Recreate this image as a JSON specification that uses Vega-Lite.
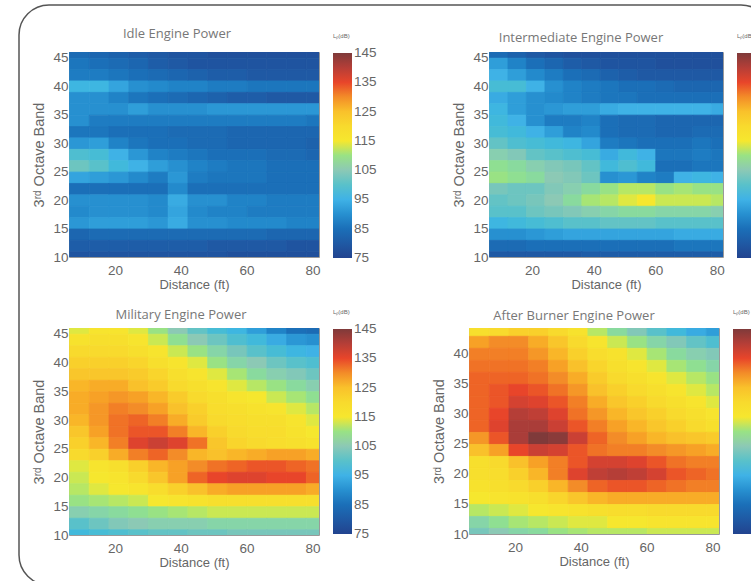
{"$schema":"https://vega.github.io/schema/vega-lite/v6.json","padding":{"left":18,"top":4,"right":0,"bottom":0},"background":"#ffffff","config":{"view":{"stroke":"#999","strokeWidth":1},"title":{"font":"Open Sans","fontSize":13,"fontWeight":"normal","color":"#777"},"rect":{"strokeWidth":0.8},"axis":{"domain":false,"ticks":false,"grid":false,"labelFont":"Liberation Sans","labelFontSize":13.5,"labelColor":"#666","titleFont":"Liberation Sans","titleFontSize":13,"titleFontWeight":"normal","titleColor":"#666"},"axisX":{"labelPadding":6,"titlePadding":2},"axisY":{"labelPadding":1,"titlePadding":6,"titleFontSize":14.5},"legend":{"gradientLength":205,"gradientThickness":19,"labelFont":"Liberation Sans","labelFontSize":13.5,"labelColor":"#666","titleFont":"Liberation Sans","titleFontSize":6,"titleFontWeight":"normal","titleColor":"#666","gradientStrokeColor":"#999","titlePadding":14}},"datasets":{"p1":[
{"d":9,"b":46,"v":84},{"d":15,"b":46,"v":83},{"d":21,"b":46,"v":82},{"d":27,"b":46,"v":81},{"d":33,"b":46,"v":80},{"d":39,"b":46,"v":79},{"d":45,"b":46,"v":79},{"d":51,"b":46,"v":78},{"d":57,"b":46,"v":78},{"d":63,"b":46,"v":78},{"d":69,"b":46,"v":78},{"d":75,"b":46,"v":78},{"d":81,"b":46,"v":78},
{"d":9,"b":44,"v":86},{"d":15,"b":44,"v":85},{"d":21,"b":44,"v":84},{"d":27,"b":44,"v":83},{"d":33,"b":44,"v":81},{"d":39,"b":44,"v":80},{"d":45,"b":44,"v":79},{"d":51,"b":44,"v":79},{"d":57,"b":44,"v":79},{"d":63,"b":44,"v":79},{"d":69,"b":44,"v":79},{"d":75,"b":44,"v":79},{"d":81,"b":44,"v":79},
{"d":9,"b":42,"v":87},{"d":15,"b":42,"v":87},{"d":21,"b":42,"v":86},{"d":27,"b":42,"v":85},{"d":33,"b":42,"v":84},{"d":39,"b":42,"v":83},{"d":45,"b":42,"v":82},{"d":51,"b":42,"v":81},{"d":57,"b":42,"v":81},{"d":63,"b":42,"v":80},{"d":69,"b":42,"v":80},{"d":75,"b":42,"v":80},{"d":81,"b":42,"v":80},
{"d":9,"b":40,"v":96},{"d":15,"b":40,"v":96},{"d":21,"b":40,"v":93},{"d":27,"b":40,"v":90},{"d":33,"b":40,"v":89},{"d":39,"b":40,"v":88},{"d":45,"b":40,"v":88},{"d":51,"b":40,"v":87},{"d":57,"b":40,"v":87},{"d":63,"b":40,"v":86},{"d":69,"b":40,"v":86},{"d":75,"b":40,"v":86},{"d":81,"b":40,"v":86},
{"d":9,"b":38,"v":90},{"d":15,"b":38,"v":90},{"d":21,"b":38,"v":88},{"d":27,"b":38,"v":86},{"d":33,"b":38,"v":85},{"d":39,"b":38,"v":84},{"d":45,"b":38,"v":83},{"d":51,"b":38,"v":82},{"d":57,"b":38,"v":81},{"d":63,"b":38,"v":81},{"d":69,"b":38,"v":80},{"d":75,"b":38,"v":80},{"d":81,"b":38,"v":80},
{"d":9,"b":36,"v":90},{"d":15,"b":36,"v":90},{"d":21,"b":36,"v":90},{"d":27,"b":36,"v":92},{"d":33,"b":36,"v":90},{"d":39,"b":36,"v":90},{"d":45,"b":36,"v":90},{"d":51,"b":36,"v":91},{"d":57,"b":36,"v":91},{"d":63,"b":36,"v":91},{"d":69,"b":36,"v":91},{"d":75,"b":36,"v":91},{"d":81,"b":36,"v":91},
{"d":9,"b":34,"v":90},{"d":15,"b":34,"v":87},{"d":21,"b":34,"v":87},{"d":27,"b":34,"v":87},{"d":33,"b":34,"v":87},{"d":39,"b":34,"v":87},{"d":45,"b":34,"v":87},{"d":51,"b":34,"v":87},{"d":57,"b":34,"v":87},{"d":63,"b":34,"v":87},{"d":69,"b":34,"v":87},{"d":75,"b":34,"v":87},{"d":81,"b":34,"v":86},
{"d":9,"b":32,"v":86},{"d":15,"b":32,"v":86},{"d":21,"b":32,"v":85},{"d":27,"b":32,"v":85},{"d":33,"b":32,"v":85},{"d":39,"b":32,"v":84},{"d":45,"b":32,"v":84},{"d":51,"b":32,"v":84},{"d":57,"b":32,"v":83},{"d":63,"b":32,"v":83},{"d":69,"b":32,"v":83},{"d":75,"b":32,"v":83},{"d":81,"b":32,"v":83},
{"d":9,"b":30,"v":91},{"d":15,"b":30,"v":92},{"d":21,"b":30,"v":88},{"d":27,"b":30,"v":86},{"d":33,"b":30,"v":85},{"d":39,"b":30,"v":85},{"d":45,"b":30,"v":84},{"d":51,"b":30,"v":84},{"d":57,"b":30,"v":83},{"d":63,"b":30,"v":83},{"d":69,"b":30,"v":83},{"d":75,"b":30,"v":83},{"d":81,"b":30,"v":82},
{"d":9,"b":28,"v":99},{"d":15,"b":28,"v":98},{"d":21,"b":28,"v":95},{"d":27,"b":28,"v":91},{"d":33,"b":28,"v":88},{"d":39,"b":28,"v":87},{"d":45,"b":28,"v":86},{"d":51,"b":28,"v":85},{"d":57,"b":28,"v":85},{"d":63,"b":28,"v":85},{"d":69,"b":28,"v":84},{"d":75,"b":28,"v":84},{"d":81,"b":28,"v":83},
{"d":9,"b":26,"v":102},{"d":15,"b":26,"v":100},{"d":21,"b":26,"v":97},{"d":27,"b":26,"v":95},{"d":33,"b":26,"v":92},{"d":39,"b":26,"v":90},{"d":45,"b":26,"v":88},{"d":51,"b":26,"v":87},{"d":57,"b":26,"v":86},{"d":63,"b":26,"v":86},{"d":69,"b":26,"v":85},{"d":75,"b":26,"v":85},{"d":81,"b":26,"v":85},
{"d":9,"b":24,"v":93},{"d":15,"b":24,"v":92},{"d":21,"b":24,"v":91},{"d":27,"b":24,"v":89},{"d":33,"b":24,"v":87},{"d":39,"b":24,"v":91},{"d":45,"b":24,"v":87},{"d":51,"b":24,"v":86},{"d":57,"b":24,"v":86},{"d":63,"b":24,"v":86},{"d":69,"b":24,"v":85},{"d":75,"b":24,"v":85},{"d":81,"b":24,"v":85},
{"d":9,"b":22,"v":85},{"d":15,"b":22,"v":85},{"d":21,"b":22,"v":85},{"d":27,"b":22,"v":85},{"d":33,"b":22,"v":85},{"d":39,"b":22,"v":89},{"d":45,"b":22,"v":85},{"d":51,"b":22,"v":85},{"d":57,"b":22,"v":85},{"d":63,"b":22,"v":85},{"d":69,"b":22,"v":85},{"d":75,"b":22,"v":85},{"d":81,"b":22,"v":85},
{"d":9,"b":20,"v":90},{"d":15,"b":20,"v":90},{"d":21,"b":20,"v":90},{"d":27,"b":20,"v":90},{"d":33,"b":20,"v":89},{"d":39,"b":20,"v":94},{"d":45,"b":20,"v":90},{"d":51,"b":20,"v":90},{"d":57,"b":20,"v":88},{"d":63,"b":20,"v":88},{"d":69,"b":20,"v":87},{"d":75,"b":20,"v":87},{"d":81,"b":20,"v":87},
{"d":9,"b":18,"v":89},{"d":15,"b":18,"v":90},{"d":21,"b":18,"v":90},{"d":27,"b":18,"v":90},{"d":33,"b":18,"v":89},{"d":39,"b":18,"v":93},{"d":45,"b":18,"v":89},{"d":51,"b":18,"v":88},{"d":57,"b":18,"v":88},{"d":63,"b":18,"v":87},{"d":69,"b":18,"v":87},{"d":75,"b":18,"v":87},{"d":81,"b":18,"v":87},
{"d":9,"b":16,"v":91},{"d":15,"b":16,"v":92},{"d":21,"b":16,"v":92},{"d":27,"b":16,"v":92},{"d":33,"b":16,"v":91},{"d":39,"b":16,"v":94},{"d":45,"b":16,"v":90},{"d":51,"b":16,"v":90},{"d":57,"b":16,"v":89},{"d":63,"b":16,"v":89},{"d":69,"b":16,"v":89},{"d":75,"b":16,"v":88},{"d":81,"b":16,"v":88},
{"d":9,"b":14,"v":83},{"d":15,"b":14,"v":84},{"d":21,"b":14,"v":84},{"d":27,"b":14,"v":84},{"d":33,"b":14,"v":84},{"d":39,"b":14,"v":84},{"d":45,"b":14,"v":84},{"d":51,"b":14,"v":84},{"d":57,"b":14,"v":84},{"d":63,"b":14,"v":84},{"d":69,"b":14,"v":83},{"d":75,"b":14,"v":83},{"d":81,"b":14,"v":83},
{"d":9,"b":12,"v":81},{"d":15,"b":12,"v":81},{"d":21,"b":12,"v":81},{"d":27,"b":12,"v":81},{"d":33,"b":12,"v":81},{"d":39,"b":12,"v":81},{"d":45,"b":12,"v":81},{"d":51,"b":12,"v":80},{"d":57,"b":12,"v":80},{"d":63,"b":12,"v":80},{"d":69,"b":12,"v":80},{"d":75,"b":12,"v":79},{"d":81,"b":12,"v":79},
{"d":9,"b":10,"v":79},{"d":15,"b":10,"v":79},{"d":21,"b":10,"v":79},{"d":27,"b":10,"v":79},{"d":33,"b":10,"v":79},{"d":39,"b":10,"v":79},{"d":45,"b":10,"v":79},{"d":51,"b":10,"v":79},{"d":57,"b":10,"v":78},{"d":63,"b":10,"v":78},{"d":69,"b":10,"v":78},{"d":75,"b":10,"v":78},{"d":81,"b":10,"v":78}
],"p2":[
{"d":9,"b":46,"v":84},{"d":15,"b":46,"v":82},{"d":21,"b":46,"v":80},{"d":27,"b":46,"v":79},{"d":33,"b":46,"v":78},{"d":39,"b":46,"v":78},{"d":45,"b":46,"v":78},{"d":51,"b":46,"v":78},{"d":57,"b":46,"v":78},{"d":63,"b":46,"v":78},{"d":69,"b":46,"v":78},{"d":75,"b":46,"v":78},{"d":81,"b":46,"v":78},
{"d":9,"b":44,"v":92},{"d":15,"b":44,"v":88},{"d":21,"b":44,"v":85},{"d":27,"b":44,"v":83},{"d":33,"b":44,"v":81},{"d":39,"b":44,"v":80},{"d":45,"b":44,"v":79},{"d":51,"b":44,"v":79},{"d":57,"b":44,"v":79},{"d":63,"b":44,"v":78},{"d":69,"b":44,"v":78},{"d":75,"b":44,"v":78},{"d":81,"b":44,"v":78},
{"d":9,"b":42,"v":95},{"d":15,"b":42,"v":92},{"d":21,"b":42,"v":89},{"d":27,"b":42,"v":87},{"d":33,"b":42,"v":85},{"d":39,"b":42,"v":84},{"d":45,"b":42,"v":82},{"d":51,"b":42,"v":81},{"d":57,"b":42,"v":80},{"d":63,"b":42,"v":80},{"d":69,"b":42,"v":80},{"d":75,"b":42,"v":80},{"d":81,"b":42,"v":80},
{"d":9,"b":40,"v":98},{"d":15,"b":40,"v":98},{"d":21,"b":40,"v":95},{"d":27,"b":40,"v":90},{"d":33,"b":40,"v":88},{"d":39,"b":40,"v":87},{"d":45,"b":40,"v":86},{"d":51,"b":40,"v":85},{"d":57,"b":40,"v":85},{"d":63,"b":40,"v":84},{"d":69,"b":40,"v":83},{"d":75,"b":40,"v":83},{"d":81,"b":40,"v":83},
{"d":9,"b":38,"v":94},{"d":15,"b":38,"v":92},{"d":21,"b":38,"v":90},{"d":27,"b":38,"v":89},{"d":33,"b":38,"v":88},{"d":39,"b":38,"v":87},{"d":45,"b":38,"v":86},{"d":51,"b":38,"v":86},{"d":57,"b":38,"v":85},{"d":63,"b":38,"v":85},{"d":69,"b":38,"v":85},{"d":75,"b":38,"v":85},{"d":81,"b":38,"v":85},
{"d":9,"b":36,"v":96},{"d":15,"b":36,"v":92},{"d":21,"b":36,"v":90},{"d":27,"b":36,"v":91},{"d":33,"b":36,"v":92},{"d":39,"b":36,"v":92},{"d":45,"b":36,"v":94},{"d":51,"b":36,"v":95},{"d":57,"b":36,"v":95},{"d":63,"b":36,"v":95},{"d":69,"b":36,"v":95},{"d":75,"b":36,"v":95},{"d":81,"b":36,"v":94},
{"d":9,"b":34,"v":97},{"d":15,"b":34,"v":95},{"d":21,"b":34,"v":90},{"d":27,"b":34,"v":87},{"d":33,"b":34,"v":87},{"d":39,"b":34,"v":88},{"d":45,"b":34,"v":85},{"d":51,"b":34,"v":84},{"d":57,"b":34,"v":84},{"d":63,"b":34,"v":83},{"d":69,"b":34,"v":83},{"d":75,"b":34,"v":83},{"d":81,"b":34,"v":83},
{"d":9,"b":32,"v":98},{"d":15,"b":32,"v":97},{"d":21,"b":32,"v":95},{"d":27,"b":32,"v":92},{"d":33,"b":32,"v":88},{"d":39,"b":32,"v":89},{"d":45,"b":32,"v":85},{"d":51,"b":32,"v":84},{"d":57,"b":32,"v":84},{"d":63,"b":32,"v":83},{"d":69,"b":32,"v":83},{"d":75,"b":32,"v":84},{"d":81,"b":32,"v":84},
{"d":9,"b":30,"v":101},{"d":15,"b":30,"v":99},{"d":21,"b":30,"v":98},{"d":27,"b":30,"v":97},{"d":33,"b":30,"v":96},{"d":39,"b":30,"v":93},{"d":45,"b":30,"v":87},{"d":51,"b":30,"v":86},{"d":57,"b":30,"v":85},{"d":63,"b":30,"v":85},{"d":69,"b":30,"v":85},{"d":75,"b":30,"v":86},{"d":81,"b":30,"v":85},
{"d":9,"b":28,"v":106},{"d":15,"b":28,"v":104},{"d":21,"b":28,"v":101},{"d":27,"b":28,"v":100},{"d":33,"b":28,"v":99},{"d":39,"b":28,"v":98},{"d":45,"b":28,"v":94},{"d":51,"b":28,"v":97},{"d":57,"b":28,"v":95},{"d":63,"b":28,"v":86},{"d":69,"b":28,"v":86},{"d":75,"b":28,"v":87},{"d":81,"b":28,"v":86},
{"d":9,"b":26,"v":109},{"d":15,"b":26,"v":108},{"d":21,"b":26,"v":106},{"d":27,"b":26,"v":104},{"d":33,"b":26,"v":103},{"d":39,"b":26,"v":101},{"d":45,"b":26,"v":97},{"d":51,"b":26,"v":99},{"d":57,"b":26,"v":97},{"d":63,"b":26,"v":85},{"d":69,"b":26,"v":85},{"d":75,"b":26,"v":86},{"d":81,"b":26,"v":86},
{"d":9,"b":24,"v":110},{"d":15,"b":24,"v":109},{"d":21,"b":24,"v":108},{"d":27,"b":24,"v":105},{"d":33,"b":24,"v":104},{"d":39,"b":24,"v":102},{"d":45,"b":24,"v":90},{"d":51,"b":24,"v":91},{"d":57,"b":24,"v":88},{"d":63,"b":24,"v":87},{"d":69,"b":24,"v":95},{"d":75,"b":24,"v":96},{"d":81,"b":24,"v":95},
{"d":9,"b":22,"v":103},{"d":15,"b":22,"v":102},{"d":21,"b":22,"v":102},{"d":27,"b":22,"v":104},{"d":33,"b":22,"v":106},{"d":39,"b":22,"v":108},{"d":45,"b":22,"v":110},{"d":51,"b":22,"v":112},{"d":57,"b":22,"v":112},{"d":63,"b":22,"v":110},{"d":69,"b":22,"v":111},{"d":75,"b":22,"v":110},{"d":81,"b":22,"v":110},
{"d":9,"b":20,"v":101},{"d":15,"b":20,"v":102},{"d":21,"b":20,"v":103},{"d":27,"b":20,"v":105},{"d":33,"b":20,"v":108},{"d":39,"b":20,"v":111},{"d":45,"b":20,"v":112},{"d":51,"b":20,"v":114},{"d":57,"b":20,"v":115},{"d":63,"b":20,"v":113},{"d":69,"b":20,"v":113},{"d":75,"b":20,"v":113},{"d":81,"b":20,"v":112},
{"d":9,"b":18,"v":100},{"d":15,"b":18,"v":100},{"d":21,"b":18,"v":102},{"d":27,"b":18,"v":103},{"d":33,"b":18,"v":104},{"d":39,"b":18,"v":106},{"d":45,"b":18,"v":107},{"d":51,"b":18,"v":108},{"d":57,"b":18,"v":108},{"d":63,"b":18,"v":107},{"d":69,"b":18,"v":107},{"d":75,"b":18,"v":107},{"d":81,"b":18,"v":106},
{"d":9,"b":16,"v":96},{"d":15,"b":16,"v":97},{"d":21,"b":16,"v":98},{"d":27,"b":16,"v":99},{"d":33,"b":16,"v":100},{"d":39,"b":16,"v":100},{"d":45,"b":16,"v":101},{"d":51,"b":16,"v":101},{"d":57,"b":16,"v":101},{"d":63,"b":16,"v":100},{"d":69,"b":16,"v":100},{"d":75,"b":16,"v":100},{"d":81,"b":16,"v":100},
{"d":9,"b":14,"v":90},{"d":15,"b":14,"v":90},{"d":21,"b":14,"v":91},{"d":27,"b":14,"v":92},{"d":33,"b":14,"v":93},{"d":39,"b":14,"v":93},{"d":45,"b":14,"v":93},{"d":51,"b":14,"v":93},{"d":57,"b":14,"v":93},{"d":63,"b":14,"v":93},{"d":69,"b":14,"v":94},{"d":75,"b":14,"v":94},{"d":81,"b":14,"v":94},
{"d":9,"b":12,"v":84},{"d":15,"b":12,"v":84},{"d":21,"b":12,"v":85},{"d":27,"b":12,"v":85},{"d":33,"b":12,"v":85},{"d":39,"b":12,"v":85},{"d":45,"b":12,"v":85},{"d":51,"b":12,"v":85},{"d":57,"b":12,"v":85},{"d":63,"b":12,"v":85},{"d":69,"b":12,"v":86},{"d":75,"b":12,"v":86},{"d":81,"b":12,"v":86},
{"d":9,"b":10,"v":80},{"d":15,"b":10,"v":80},{"d":21,"b":10,"v":80},{"d":27,"b":10,"v":80},{"d":33,"b":10,"v":80},{"d":39,"b":10,"v":81},{"d":45,"b":10,"v":81},{"d":51,"b":10,"v":81},{"d":57,"b":10,"v":81},{"d":63,"b":10,"v":81},{"d":69,"b":10,"v":81},{"d":75,"b":10,"v":81},{"d":81,"b":10,"v":81}
],"p3":[
{"d":9,"b":46,"v":114},{"d":15,"b":46,"v":116},{"d":21,"b":46,"v":116},{"d":27,"b":46,"v":114},{"d":33,"b":46,"v":110},{"d":39,"b":46,"v":105},{"d":45,"b":46,"v":101},{"d":51,"b":46,"v":98},{"d":57,"b":46,"v":96},{"d":63,"b":46,"v":92},{"d":69,"b":46,"v":88},{"d":75,"b":46,"v":85},{"d":81,"b":46,"v":84},
{"d":9,"b":44,"v":117},{"d":15,"b":44,"v":118},{"d":21,"b":44,"v":118},{"d":27,"b":44,"v":116},{"d":33,"b":44,"v":113},{"d":39,"b":44,"v":109},{"d":45,"b":44,"v":105},{"d":51,"b":44,"v":102},{"d":57,"b":44,"v":99},{"d":63,"b":44,"v":97},{"d":69,"b":44,"v":94},{"d":75,"b":44,"v":91},{"d":81,"b":44,"v":90},
{"d":9,"b":42,"v":120},{"d":15,"b":42,"v":120},{"d":21,"b":42,"v":120},{"d":27,"b":42,"v":118},{"d":33,"b":42,"v":116},{"d":39,"b":42,"v":113},{"d":45,"b":42,"v":110},{"d":51,"b":42,"v":107},{"d":57,"b":42,"v":103},{"d":63,"b":42,"v":100},{"d":69,"b":42,"v":98},{"d":75,"b":42,"v":96},{"d":81,"b":42,"v":95},
{"d":9,"b":40,"v":122},{"d":15,"b":40,"v":122},{"d":21,"b":40,"v":122},{"d":27,"b":40,"v":121},{"d":33,"b":40,"v":118},{"d":39,"b":40,"v":116},{"d":45,"b":40,"v":114},{"d":51,"b":40,"v":110},{"d":57,"b":40,"v":107},{"d":63,"b":40,"v":105},{"d":69,"b":40,"v":102},{"d":75,"b":40,"v":100},{"d":81,"b":40,"v":99},
{"d":9,"b":38,"v":124},{"d":15,"b":38,"v":124},{"d":21,"b":38,"v":124},{"d":27,"b":38,"v":123},{"d":33,"b":38,"v":121},{"d":39,"b":38,"v":118},{"d":45,"b":38,"v":116},{"d":51,"b":38,"v":114},{"d":57,"b":38,"v":111},{"d":63,"b":38,"v":108},{"d":69,"b":38,"v":106},{"d":75,"b":38,"v":104},{"d":81,"b":38,"v":102},
{"d":9,"b":36,"v":126},{"d":15,"b":36,"v":127},{"d":21,"b":36,"v":127},{"d":27,"b":36,"v":125},{"d":33,"b":36,"v":123},{"d":39,"b":36,"v":120},{"d":45,"b":36,"v":118},{"d":51,"b":36,"v":116},{"d":57,"b":36,"v":114},{"d":63,"b":36,"v":112},{"d":69,"b":36,"v":110},{"d":75,"b":36,"v":108},{"d":81,"b":36,"v":106},
{"d":9,"b":34,"v":127},{"d":15,"b":34,"v":128},{"d":21,"b":34,"v":129},{"d":27,"b":34,"v":128},{"d":33,"b":34,"v":126},{"d":39,"b":34,"v":123},{"d":45,"b":34,"v":120},{"d":51,"b":34,"v":118},{"d":57,"b":34,"v":116},{"d":63,"b":34,"v":115},{"d":69,"b":34,"v":113},{"d":75,"b":34,"v":111},{"d":81,"b":34,"v":109},
{"d":9,"b":32,"v":127},{"d":15,"b":32,"v":129},{"d":21,"b":32,"v":131},{"d":27,"b":32,"v":130},{"d":33,"b":32,"v":128},{"d":39,"b":32,"v":125},{"d":45,"b":32,"v":122},{"d":51,"b":32,"v":119},{"d":57,"b":32,"v":118},{"d":63,"b":32,"v":117},{"d":69,"b":32,"v":116},{"d":75,"b":32,"v":114},{"d":81,"b":32,"v":112},
{"d":9,"b":30,"v":126},{"d":15,"b":30,"v":129},{"d":21,"b":30,"v":132},{"d":27,"b":30,"v":133},{"d":33,"b":30,"v":131},{"d":39,"b":30,"v":127},{"d":45,"b":30,"v":123},{"d":51,"b":30,"v":120},{"d":57,"b":30,"v":119},{"d":63,"b":30,"v":118},{"d":69,"b":30,"v":118},{"d":75,"b":30,"v":116},{"d":81,"b":30,"v":114},
{"d":9,"b":28,"v":124},{"d":15,"b":28,"v":128},{"d":21,"b":28,"v":132},{"d":27,"b":28,"v":134},{"d":33,"b":28,"v":134},{"d":39,"b":28,"v":131},{"d":45,"b":28,"v":126},{"d":51,"b":28,"v":122},{"d":57,"b":28,"v":120},{"d":63,"b":28,"v":119},{"d":69,"b":28,"v":119},{"d":75,"b":28,"v":117},{"d":81,"b":28,"v":115},
{"d":9,"b":26,"v":122},{"d":15,"b":26,"v":126},{"d":21,"b":26,"v":131},{"d":27,"b":26,"v":136},{"d":33,"b":26,"v":138},{"d":39,"b":26,"v":136},{"d":45,"b":26,"v":132},{"d":51,"b":26,"v":124},{"d":57,"b":26,"v":121},{"d":63,"b":26,"v":120},{"d":69,"b":26,"v":119},{"d":75,"b":26,"v":118},{"d":81,"b":26,"v":117},
{"d":9,"b":24,"v":120},{"d":15,"b":24,"v":122},{"d":21,"b":24,"v":127},{"d":27,"b":24,"v":131},{"d":33,"b":24,"v":133},{"d":39,"b":24,"v":130},{"d":45,"b":24,"v":126},{"d":51,"b":24,"v":125},{"d":57,"b":24,"v":126},{"d":63,"b":24,"v":127},{"d":69,"b":24,"v":128},{"d":75,"b":24,"v":128},{"d":81,"b":24,"v":127},
{"d":9,"b":22,"v":114},{"d":15,"b":22,"v":116},{"d":21,"b":22,"v":118},{"d":27,"b":22,"v":122},{"d":33,"b":22,"v":126},{"d":39,"b":22,"v":128},{"d":45,"b":22,"v":130},{"d":51,"b":22,"v":132},{"d":57,"b":22,"v":133},{"d":63,"b":22,"v":134},{"d":69,"b":22,"v":134},{"d":75,"b":22,"v":133},{"d":81,"b":22,"v":132},
{"d":9,"b":20,"v":113},{"d":15,"b":20,"v":115},{"d":21,"b":20,"v":116},{"d":27,"b":20,"v":120},{"d":33,"b":20,"v":124},{"d":39,"b":20,"v":128},{"d":45,"b":20,"v":133},{"d":51,"b":20,"v":135},{"d":57,"b":20,"v":136},{"d":63,"b":20,"v":136},{"d":69,"b":20,"v":135},{"d":75,"b":20,"v":135},{"d":81,"b":20,"v":133},
{"d":9,"b":18,"v":112},{"d":15,"b":18,"v":114},{"d":21,"b":18,"v":115},{"d":27,"b":18,"v":116},{"d":33,"b":18,"v":119},{"d":39,"b":18,"v":122},{"d":45,"b":18,"v":125},{"d":51,"b":18,"v":127},{"d":57,"b":18,"v":128},{"d":63,"b":18,"v":128},{"d":69,"b":18,"v":128},{"d":75,"b":18,"v":128},{"d":81,"b":18,"v":127},
{"d":9,"b":16,"v":110},{"d":15,"b":16,"v":111},{"d":21,"b":16,"v":112},{"d":27,"b":16,"v":113},{"d":33,"b":16,"v":115},{"d":39,"b":16,"v":116},{"d":45,"b":16,"v":117},{"d":51,"b":16,"v":118},{"d":57,"b":16,"v":118},{"d":63,"b":16,"v":118},{"d":69,"b":16,"v":118},{"d":75,"b":16,"v":118},{"d":81,"b":16,"v":118},
{"d":9,"b":14,"v":106},{"d":15,"b":14,"v":107},{"d":21,"b":14,"v":108},{"d":27,"b":14,"v":109},{"d":33,"b":14,"v":110},{"d":39,"b":14,"v":111},{"d":45,"b":14,"v":112},{"d":51,"b":14,"v":113},{"d":57,"b":14,"v":113},{"d":63,"b":14,"v":113},{"d":69,"b":14,"v":113},{"d":75,"b":14,"v":113},{"d":81,"b":14,"v":113},
{"d":9,"b":12,"v":100},{"d":15,"b":12,"v":102},{"d":21,"b":12,"v":104},{"d":27,"b":12,"v":105},{"d":33,"b":12,"v":106},{"d":39,"b":12,"v":106},{"d":45,"b":12,"v":106},{"d":51,"b":12,"v":107},{"d":57,"b":12,"v":107},{"d":63,"b":12,"v":107},{"d":69,"b":12,"v":107},{"d":75,"b":12,"v":107},{"d":81,"b":12,"v":107},
{"d":9,"b":10,"v":97},{"d":15,"b":10,"v":98},{"d":21,"b":10,"v":99},{"d":27,"b":10,"v":100},{"d":33,"b":10,"v":101},{"d":39,"b":10,"v":101},{"d":45,"b":10,"v":102},{"d":51,"b":10,"v":102},{"d":57,"b":10,"v":103},{"d":63,"b":10,"v":103},{"d":69,"b":10,"v":103},{"d":75,"b":10,"v":103},{"d":81,"b":10,"v":103}
],"p4":[
{"d":9,"b":44,"v":118},{"d":15,"b":44,"v":120},{"d":21,"b":44,"v":122},{"d":27,"b":44,"v":122},{"d":33,"b":44,"v":120},{"d":39,"b":44,"v":117},{"d":45,"b":44,"v":112},{"d":51,"b":44,"v":108},{"d":57,"b":44,"v":104},{"d":63,"b":44,"v":100},{"d":69,"b":44,"v":97},{"d":75,"b":44,"v":94},{"d":81,"b":44,"v":92},
{"d":9,"b":42,"v":128},{"d":15,"b":42,"v":130},{"d":21,"b":42,"v":130},{"d":27,"b":42,"v":127},{"d":33,"b":42,"v":124},{"d":39,"b":42,"v":120},{"d":45,"b":42,"v":116},{"d":51,"b":42,"v":113},{"d":57,"b":42,"v":110},{"d":63,"b":42,"v":107},{"d":69,"b":42,"v":104},{"d":75,"b":42,"v":101},{"d":81,"b":42,"v":99},
{"d":9,"b":40,"v":131},{"d":15,"b":40,"v":131},{"d":21,"b":40,"v":131},{"d":27,"b":40,"v":129},{"d":33,"b":40,"v":126},{"d":39,"b":40,"v":122},{"d":45,"b":40,"v":119},{"d":51,"b":40,"v":117},{"d":57,"b":40,"v":114},{"d":63,"b":40,"v":111},{"d":69,"b":40,"v":108},{"d":75,"b":40,"v":106},{"d":81,"b":40,"v":104},
{"d":9,"b":38,"v":132},{"d":15,"b":38,"v":132},{"d":21,"b":38,"v":132},{"d":27,"b":38,"v":131},{"d":33,"b":38,"v":128},{"d":39,"b":38,"v":125},{"d":45,"b":38,"v":121},{"d":51,"b":38,"v":118},{"d":57,"b":38,"v":116},{"d":63,"b":38,"v":114},{"d":69,"b":38,"v":111},{"d":75,"b":38,"v":109},{"d":81,"b":38,"v":107},
{"d":9,"b":36,"v":133},{"d":15,"b":36,"v":133},{"d":21,"b":36,"v":133},{"d":27,"b":36,"v":132},{"d":33,"b":36,"v":130},{"d":39,"b":36,"v":127},{"d":45,"b":36,"v":123},{"d":51,"b":36,"v":120},{"d":57,"b":36,"v":118},{"d":63,"b":36,"v":116},{"d":69,"b":36,"v":114},{"d":75,"b":36,"v":112},{"d":81,"b":36,"v":110},
{"d":9,"b":34,"v":133},{"d":15,"b":34,"v":134},{"d":21,"b":34,"v":135},{"d":27,"b":34,"v":134},{"d":33,"b":34,"v":132},{"d":39,"b":34,"v":129},{"d":45,"b":34,"v":125},{"d":51,"b":34,"v":122},{"d":57,"b":34,"v":120},{"d":63,"b":34,"v":118},{"d":69,"b":34,"v":116},{"d":75,"b":34,"v":114},{"d":81,"b":34,"v":112},
{"d":9,"b":32,"v":133},{"d":15,"b":32,"v":134},{"d":21,"b":32,"v":137},{"d":27,"b":32,"v":136},{"d":33,"b":32,"v":134},{"d":39,"b":32,"v":131},{"d":45,"b":32,"v":127},{"d":51,"b":32,"v":124},{"d":57,"b":32,"v":122},{"d":63,"b":32,"v":120},{"d":69,"b":32,"v":118},{"d":75,"b":32,"v":116},{"d":81,"b":32,"v":114},
{"d":9,"b":30,"v":133},{"d":15,"b":30,"v":135},{"d":21,"b":30,"v":140},{"d":27,"b":30,"v":139},{"d":33,"b":30,"v":136},{"d":39,"b":30,"v":132},{"d":45,"b":30,"v":129},{"d":51,"b":30,"v":126},{"d":57,"b":30,"v":124},{"d":63,"b":30,"v":122},{"d":69,"b":30,"v":120},{"d":75,"b":30,"v":118},{"d":81,"b":30,"v":116},
{"d":9,"b":28,"v":133},{"d":15,"b":28,"v":136},{"d":21,"b":28,"v":141},{"d":27,"b":28,"v":141},{"d":33,"b":28,"v":138},{"d":39,"b":28,"v":134},{"d":45,"b":28,"v":131},{"d":51,"b":28,"v":128},{"d":57,"b":28,"v":126},{"d":63,"b":28,"v":124},{"d":69,"b":28,"v":122},{"d":75,"b":28,"v":120},{"d":81,"b":28,"v":118},
{"d":9,"b":26,"v":129},{"d":15,"b":26,"v":134},{"d":21,"b":26,"v":141},{"d":27,"b":26,"v":145},{"d":33,"b":26,"v":144},{"d":39,"b":26,"v":138},{"d":45,"b":26,"v":133},{"d":51,"b":26,"v":130},{"d":57,"b":26,"v":128},{"d":63,"b":26,"v":126},{"d":69,"b":26,"v":125},{"d":75,"b":26,"v":124},{"d":81,"b":26,"v":123},
{"d":9,"b":24,"v":125},{"d":15,"b":24,"v":128},{"d":21,"b":24,"v":135},{"d":27,"b":24,"v":138},{"d":33,"b":24,"v":137},{"d":39,"b":24,"v":134},{"d":45,"b":24,"v":132},{"d":51,"b":24,"v":131},{"d":57,"b":24,"v":131},{"d":63,"b":24,"v":130},{"d":69,"b":24,"v":129},{"d":75,"b":24,"v":128},{"d":81,"b":24,"v":127},
{"d":9,"b":22,"v":118},{"d":15,"b":22,"v":120},{"d":21,"b":22,"v":125},{"d":27,"b":22,"v":128},{"d":33,"b":22,"v":131},{"d":39,"b":22,"v":134},{"d":45,"b":22,"v":137},{"d":51,"b":22,"v":137},{"d":57,"b":22,"v":136},{"d":63,"b":22,"v":134},{"d":69,"b":22,"v":132},{"d":75,"b":22,"v":131},{"d":81,"b":22,"v":131},
{"d":9,"b":20,"v":118},{"d":15,"b":20,"v":119},{"d":21,"b":20,"v":122},{"d":27,"b":20,"v":126},{"d":33,"b":20,"v":131},{"d":39,"b":20,"v":136},{"d":45,"b":20,"v":139},{"d":51,"b":20,"v":140},{"d":57,"b":20,"v":139},{"d":63,"b":20,"v":137},{"d":69,"b":20,"v":134},{"d":75,"b":20,"v":133},{"d":81,"b":20,"v":132},
{"d":9,"b":18,"v":117},{"d":15,"b":18,"v":118},{"d":21,"b":18,"v":120},{"d":27,"b":18,"v":122},{"d":33,"b":18,"v":126},{"d":39,"b":18,"v":130},{"d":45,"b":18,"v":133},{"d":51,"b":18,"v":134},{"d":57,"b":18,"v":134},{"d":63,"b":18,"v":133},{"d":69,"b":18,"v":132},{"d":75,"b":18,"v":131},{"d":81,"b":18,"v":131},
{"d":9,"b":16,"v":115},{"d":15,"b":16,"v":116},{"d":21,"b":16,"v":117},{"d":27,"b":16,"v":118},{"d":33,"b":16,"v":121},{"d":39,"b":16,"v":124},{"d":45,"b":16,"v":126},{"d":51,"b":16,"v":127},{"d":57,"b":16,"v":127},{"d":63,"b":16,"v":127},{"d":69,"b":16,"v":127},{"d":75,"b":16,"v":127},{"d":81,"b":16,"v":127},
{"d":9,"b":14,"v":112},{"d":15,"b":14,"v":113},{"d":21,"b":14,"v":114},{"d":27,"b":14,"v":115},{"d":33,"b":14,"v":116},{"d":39,"b":14,"v":117},{"d":45,"b":14,"v":118},{"d":51,"b":14,"v":119},{"d":57,"b":14,"v":119},{"d":63,"b":14,"v":120},{"d":69,"b":14,"v":120},{"d":75,"b":14,"v":120},{"d":81,"b":14,"v":120},
{"d":9,"b":12,"v":107},{"d":15,"b":12,"v":109},{"d":21,"b":12,"v":111},{"d":27,"b":12,"v":112},{"d":33,"b":12,"v":113},{"d":39,"b":12,"v":114},{"d":45,"b":12,"v":114},{"d":51,"b":12,"v":115},{"d":57,"b":12,"v":115},{"d":63,"b":12,"v":116},{"d":69,"b":12,"v":116},{"d":75,"b":12,"v":116},{"d":81,"b":12,"v":116},
{"d":9,"b":10,"v":103},{"d":15,"b":10,"v":105},{"d":21,"b":10,"v":107},{"d":27,"b":10,"v":108},{"d":33,"b":10,"v":110},{"d":39,"b":10,"v":111},{"d":45,"b":10,"v":112},{"d":51,"b":10,"v":112},{"d":57,"b":10,"v":112},{"d":63,"b":10,"v":113},{"d":69,"b":10,"v":113},{"d":75,"b":10,"v":113},{"d":81,"b":10,"v":113}
]},"spacing":-741,"align":"none","resolve":{"scale":{"color":"independent","stroke":"independent"}},"hconcat":[{"data":{"values":[{"k":1}]},"width":752,"height":580,"view":{"stroke":"#555","strokeWidth":1.5,"cornerRadius":30},"mark":{"type":"point","opacity":0},"encoding":{}},{"align":"none","spacing":16,"resolve":{"scale":{"color":"independent","stroke":"independent"}},"vconcat":[{"data":{"values":[{"k":1}]},"width":10,"height":6,"view":{"stroke":null},"mark":{"type":"point","opacity":0},"encoding":{}},{"spacing":73,"align":"none","resolve":{"scale":{"color":"independent","stroke":"independent"}},"hconcat":[{"title":{"text":"Idle Engine Power","offset":-8,"dx":-17},"width":250,"height":205,"data":{"name":"p1"},"mark":{"type":"rect","clip":true},"encoding":{"x":{"field":"d","bin":{"step":6,"extent":[6,84],"nice":false},"scale":{"domain":[6,82]},"axis":{"values":[20,40,60,80]},"title":"Distance (ft)"},"y":{"field":"b","bin":{"step":2,"extent":[9,47],"nice":false},"scale":{"domain":[10,46]},"axis":{"values":[10,15,20,25,30,35,40,45]},"title":"3ʳᵈ Octave Band"},"stroke":{"field":"v","type":"quantitative","legend":null,"scale":{"domain":[74.9,85,95,105,115,120,125,130,135,145],"range":["#22438f","#1b6fb8","#3fb2e6","#8cc9b5","#f6e72e","#f8da2d","#f9c12b","#f38c28","#e8452a","#7f3a3a"]}},"color":{"field":"v","type":"quantitative","scale":{"domain":[75,85,95,105,115,120,125,130,135,145],"range":["#22438f","#1b6fb8","#3fb2e6","#8cc9b5","#f6e72e","#f8da2d","#f9c12b","#f38c28","#e8452a","#7f3a3a"]},"legend":{"type":"gradient","orient":"none","legendX":264,"legendY":-19,"title":"Lₚ(dB)","values":[75,85,95,105,115,125,135,145],"encoding":{"labels":{"baseline":{"value":"middle"}}}}}}},{"title":{"text":"Intermediate Engine Power","offset":-12,"dx":-25},"width":234,"height":205,"data":{"name":"p2"},"mark":{"type":"rect","clip":true},"encoding":{"x":{"field":"d","bin":{"step":6,"extent":[6,84],"nice":false},"scale":{"domain":[6,82]},"axis":{"values":[20,40,60,80]},"title":"Distance (ft)"},"y":{"field":"b","bin":{"step":2,"extent":[9,47],"nice":false},"scale":{"domain":[10,46]},"axis":{"values":[10,15,20,25,30,35,40,45]},"title":"3ʳᵈ Octave Band"},"stroke":{"field":"v","type":"quantitative","legend":null,"scale":{"domain":[74.9,85,95,105,115,120,125,130,135,145],"range":["#22438f","#1b6fb8","#3fb2e6","#8cc9b5","#f6e72e","#f8da2d","#f9c12b","#f38c28","#e8452a","#7f3a3a"]}},"color":{"field":"v","type":"quantitative","scale":{"domain":[75,85,95,105,115,120,125,130,135,145],"range":["#22438f","#1b6fb8","#3fb2e6","#8cc9b5","#f6e72e","#f8da2d","#f9c12b","#f38c28","#e8452a","#7f3a3a"]},"legend":{"type":"gradient","orient":"none","legendX":248,"legendY":-19,"title":"Lₚ(dB)","values":[75,85,95,105,115,125,135,145],"encoding":{"labels":{"baseline":{"value":"middle"}}}}}}}]},{"spacing":53,"align":"none","resolve":{"scale":{"color":"independent","stroke":"independent"}},"hconcat":[{"title":{"text":"Military Engine Power","offset":-13,"dx":-13},"width":250,"height":207,"data":{"name":"p3"},"mark":{"type":"rect","clip":true},"encoding":{"x":{"field":"d","bin":{"step":6,"extent":[6,84],"nice":false},"scale":{"domain":[6,82]},"axis":{"values":[20,40,60,80]},"title":"Distance (ft)"},"y":{"field":"b","bin":{"step":2,"extent":[9,47],"nice":false},"scale":{"domain":[10,46]},"axis":{"values":[10,15,20,25,30,35,40,45]},"title":"3ʳᵈ Octave Band"},"stroke":{"field":"v","type":"quantitative","legend":null,"scale":{"domain":[74.9,85,95,105,115,120,125,130,135,145],"range":["#22438f","#1b6fb8","#3fb2e6","#8cc9b5","#f6e72e","#f8da2d","#f9c12b","#f38c28","#e8452a","#7f3a3a"]}},"color":{"field":"v","type":"quantitative","scale":{"domain":[75,85,95,105,115,120,125,130,135,145],"range":["#22438f","#1b6fb8","#3fb2e6","#8cc9b5","#f6e72e","#f8da2d","#f9c12b","#f38c28","#e8452a","#7f3a3a"]},"legend":{"type":"gradient","orient":"none","legendX":264,"legendY":-19,"title":"Lₚ(dB)","values":[75,85,95,105,115,125,135,145],"encoding":{"labels":{"baseline":{"value":"middle"}}}}}}},{"title":{"text":"After Burner Engine Power","offset":-14,"dx":-20},"width":250,"height":206,"data":{"name":"p4"},"mark":{"type":"rect","clip":true},"encoding":{"x":{"field":"d","bin":{"step":6,"extent":[6,84],"nice":false},"scale":{"domain":[6,82]},"axis":{"values":[20,40,60,80]},"title":"Distance (ft)"},"y":{"field":"b","bin":{"step":2,"extent":[9,45],"nice":false},"scale":{"domain":[10,44.3]},"axis":{"values":[10,15,20,25,30,35,40]},"title":"3ʳᵈ Octave Band"},"stroke":{"field":"v","type":"quantitative","legend":null,"scale":{"domain":[74.9,85,95,105,115,120,125,130,135,145],"range":["#22438f","#1b6fb8","#3fb2e6","#8cc9b5","#f6e72e","#f8da2d","#f9c12b","#f38c28","#e8452a","#7f3a3a"]}},"color":{"field":"v","type":"quantitative","scale":{"domain":[75,85,95,105,115,120,125,130,135,145],"range":["#22438f","#1b6fb8","#3fb2e6","#8cc9b5","#f6e72e","#f8da2d","#f9c12b","#f38c28","#e8452a","#7f3a3a"]},"legend":{"type":"gradient","orient":"none","legendX":264,"legendY":-19,"title":"Lₚ(dB)","values":[75,85,95,105,115,125,135,145],"encoding":{"labels":{"baseline":{"value":"middle"}}}}}}}]}]}]}
